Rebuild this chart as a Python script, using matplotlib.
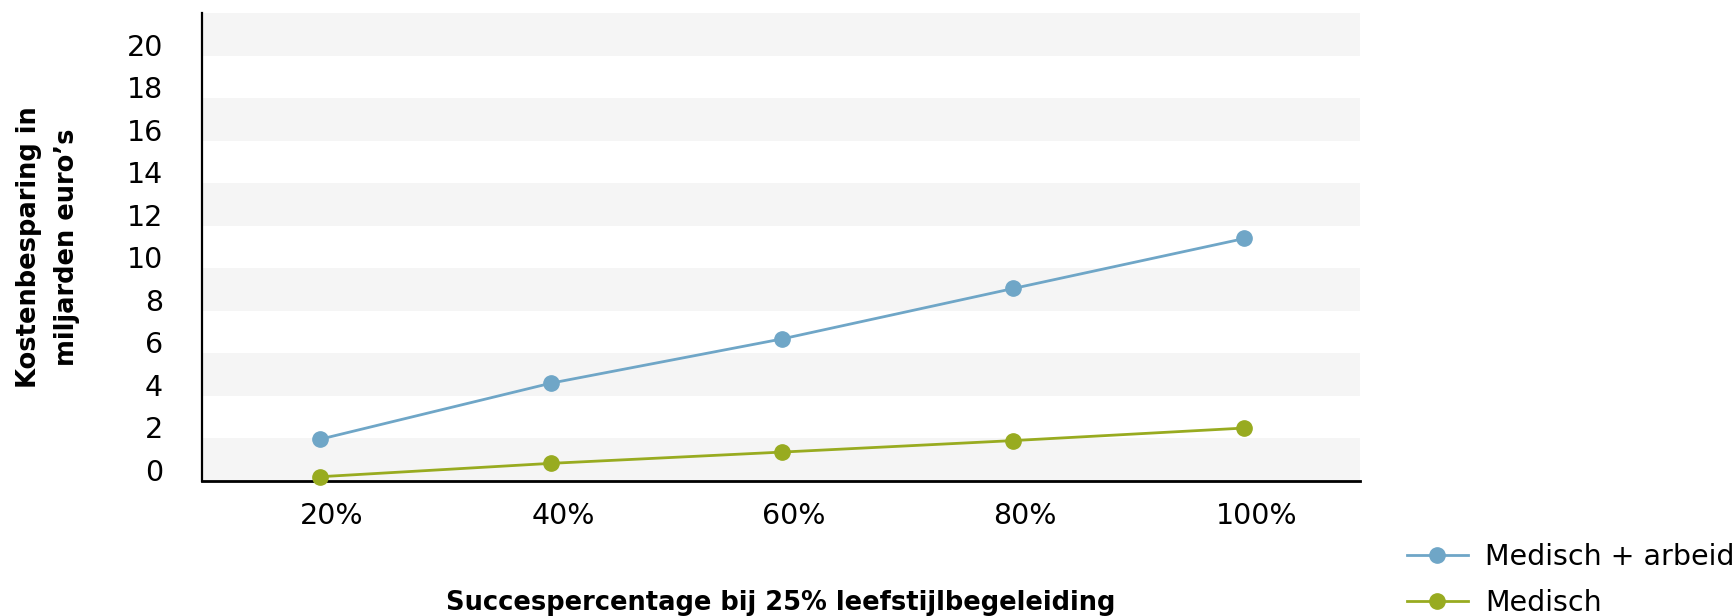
import matplotlib
matplotlib.use('Agg')
import matplotlib.pyplot as plt
import matplotlib.transforms as mtransforms

# success rates on the x axis and savings (billion euro) per scenario
success_labels = ['20%', '40%', '60%', '80%', '100%']
medisch_arbeid = [1.96, 4.6, 6.68, 9.05, 11.4]
medisch = [0.2, 0.83, 1.36, 1.9, 2.49]
y_ticks = list(range(0, 21, 2))

blue = '#6fa6c7'
green = '#98ab20'
band = '#f5f5f5'


def main():
    plt.rcParams['font.family'] = ['DejaVu Sans']

    fig = plt.figure(figsize=(17.32, 6.16), dpi=100)
    ax = fig.add_axes([202 / 1732, 1 - 481 / 616, 1158 / 1732, 468 / 616])

    x = list(range(len(success_labels)))

    # alternating horizontal bands instead of grid lines
    for lo in range(0, 22, 4):
        ax.axhspan(lo, lo + 2, color=band, lw=0, zorder=0)

    ax.plot(x, medisch_arbeid, color=blue, lw=2.0, marker='o', ms=11,
            label='Medisch + arbeid', zorder=3, clip_on=False)
    ax.plot(x, medisch, color=green, lw=2.0, marker='o', ms=11,
            label='Medisch', zorder=3, clip_on=False)

    ax.set_xlim(-0.51, 4.5)
    ax.set_ylim(0, 22)

    ax.set_yticks(y_ticks)
    ax.set_yticklabels([str(v) for v in y_ticks], fontsize=20.5)
    for t in ax.get_yticklabels():
        t.set_va('baseline')
    ax.tick_params(axis='y', length=0, pad=28)

    ax.set_xticks(x)
    ax.set_xticklabels(success_labels, fontsize=20.5)
    ax.tick_params(axis='x', length=0, pad=15)
    # labels sit a little to the right of the data points
    shift = mtransforms.ScaledTranslation(0.12, 0, fig.dpi_scale_trans)
    for t in ax.get_xticklabels():
        t.set_transform(t.get_transform() + shift)

    for side in ['top', 'right']:
        ax.spines[side].set_visible(False)
    ax.spines['left'].set_linewidth(1.6)
    ax.spines['bottom'].set_linewidth(2.0)
    ax.spines['left'].set_color('black')
    ax.spines['bottom'].set_color('black')

    ax.set_xlabel('Succespercentage bij 25% leefstijlbegeleiding',
                  fontsize=18.5, fontweight='bold')
    ax.xaxis.set_label_coords(0.5, -129 / 468)
    ax.xaxis.label.set_va('baseline')

    ax.set_ylabel('Kostenbesparing in\nmiljarden euro\u2019s', fontsize=18.5,
                  fontweight='bold', linespacing=1.6)
    ax.yaxis.label.set_va('center')
    ax.yaxis.set_label_coords(-154.5 / 1158, 0.5)

    fig.legend(loc='center left', bbox_to_anchor=(1406.7 / 1732, 1 - 580 / 616),
               frameon=False, fontsize=20.5, handlelength=2.15,
               handletextpad=0.6, labelspacing=0.65, borderpad=0,
               borderaxespad=0)

    fig.savefig('out.png', dpi=100)


if __name__ == '__main__':
    main()
